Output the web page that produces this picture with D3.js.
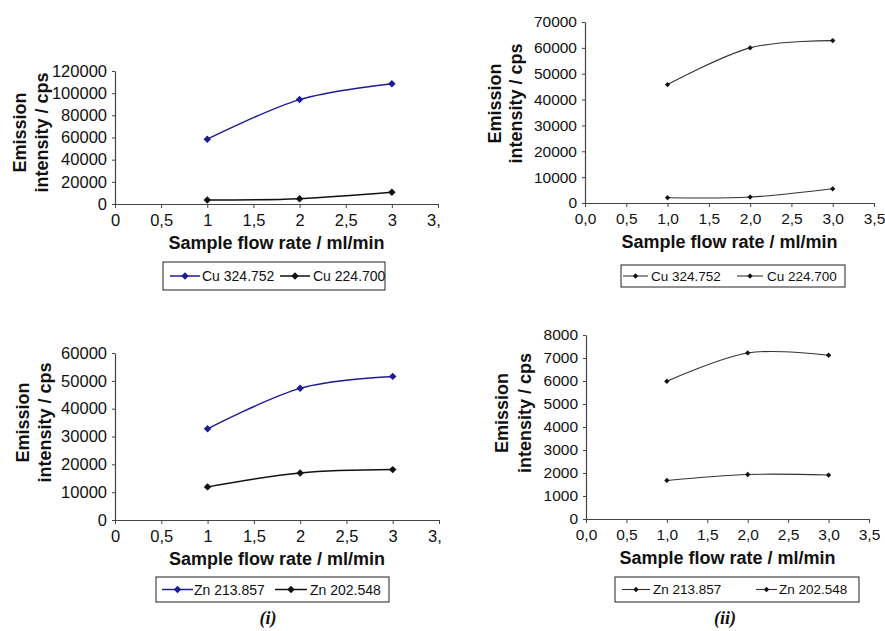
<!DOCTYPE html>
<html>
<head>
<meta charset="utf-8">
<script src="https://cdn.jsdelivr.net/npm/d3@7"></script>
<style>
  body { margin: 0; background: #fff; }
  svg { display: block; font-family: "Liberation Sans", Arial, sans-serif; }
</style>
</head>
<body>
<div id="box"></div>
<script>
// data
const flowRate = [1, 2, 3];
const xTicks = [0, 0.5, 1, 1.5, 2, 2.5, 3, 3.5];

const cu324_i = [58500, 94200, 108600];
const cu224_i = [3600, 4800, 10500];
const zn213_i = [32750, 47300, 51600];
const zn202_i = [11900, 16900, 18100];

const cu324_ii = [45800, 60000, 62800];
const cu224_ii = [2050, 2300, 5500];
const zn213_ii = [5990, 7220, 7120];
const zn202_ii = [1675, 1935, 1910];

const cuNames = ['Cu 324.752', 'Cu 224.700'];
const znNames = ['Zn 213.857', 'Zn 202.548'];

const yTicksCu_i = [0, 20000, 40000, 60000, 80000, 100000, 120000];
const yTicksZn_i = [0, 10000, 20000, 30000, 40000, 50000, 60000];
const yTicksCu_ii = [0, 10000, 20000, 30000, 40000, 50000, 60000, 70000];
const yTicksZn_ii = [0, 1000, 2000, 3000, 4000, 5000, 6000, 7000, 8000];

const width = 885, height = 631;

const svg = d3.select('#box').append('svg')
  .attr('width', width)
  .attr('height', height);

svg.append('clipPath').attr('id', 'leftClip')
  .append('rect').attr('x', 0).attr('y', 0).attr('width', 441).attr('height', height);

const commaFmt0 = d => String(d).replace('.', ',');
const commaFmt1 = d => d3.format('.1f')(d).replace('.', ',');

const panels = [
  { left: 115, right: 438, top: 71, bottom: 204, yMax: 120000, yTicks: yTicksCu_i,
    series: [cu324_i, cu224_i], names: cuNames, colors: ['#1c1c96', '#111'],
    style: 'i', tickFont: 16.5, xFmt: commaFmt0, yl: [-95, -73], yOff: -5,
    legend: { x0: 163, x1: 385, y0: 262, y1: 290, items: [[170, 200, 202], [280, 310, 313]], font: 14 } },
  { left: 585, right: 874, top: 22, bottom: 203, yMax: 70000, yTicks: yTicksCu_ii,
    series: [cu324_ii, cu224_ii], names: cuNames, colors: ['#333', '#333'],
    style: 'ii', tickFont: 15.5, xFmt: commaFmt1, yl: [-90, -69], yOff: -9,
    legend: { x0: 621, x1: 845, y0: 265, y1: 287, items: [[623, 648, 651], [737, 763, 767]], font: 13.5 } },
  { left: 115, right: 439, top: 353, bottom: 520, yMax: 60000, yTicks: yTicksZn_i,
    series: [zn213_i, zn202_i], names: znNames, colors: ['#1c1c96', '#111'],
    style: 'i', tickFont: 16.5, xFmt: commaFmt0, yl: [-92, -70], yOff: -14,
    legend: { x0: 156, x1: 389, y0: 577, y1: 602, items: [[162, 193, 194], [275, 307, 310]], font: 14 } },
  { left: 586, right: 869, top: 335, bottom: 519, yMax: 8000, yTicks: yTicksZn_ii,
    series: [zn213_ii, zn202_ii], names: znNames, colors: ['#333', '#333'],
    style: 'ii', tickFont: 15.5, xFmt: commaFmt1, yl: [-84, -61], yOff: -14,
    legend: { x0: 615, x1: 859, y0: 577, y1: 602, items: [[622, 650, 653], [756, 777, 779]], font: 13.5 } }
];

function drawPanel(p) {
  const g = svg.append('g');
  if (p.style === 'i') g.attr('clip-path', 'url(#leftClip)');

  const x = d3.scaleLinear().domain([0, 3.5]).range([p.left, p.right]);
  const y = d3.scaleLinear().domain([0, p.yMax]).range([p.bottom, p.top]);

  const xAxis = g.append('g')
    .attr('transform', `translate(0,${p.bottom})`)
    .call(d3.axisBottom(x).tickValues(xTicks).tickFormat(p.xFmt).tickSize(4).tickPadding(6).tickSizeOuter(0));
  const yAxis = g.append('g')
    .attr('transform', `translate(${p.left},0)`)
    .call(d3.axisLeft(y).tickValues(p.yTicks).tickFormat(d => String(d)).tickSize(3).tickPadding(5).tickSizeOuter(0));

  [xAxis, yAxis].forEach(a => {
    a.select('.domain').attr('stroke', '#444').attr('stroke-width', 1.2);
    a.selectAll('.tick line').attr('stroke', '#444');
    a.selectAll('.tick text').attr('fill', '#111').style('font-size', p.tickFont + 'px');
  });

  const line = d3.line()
    .x((d, i) => x(flowRate[i]))
    .y(d => y(d))
    .curve(d3.curveCardinal.tension(0));

  const mSize = p.style === 'i' ? 28 : 14;
  const lw = p.style === 'i' ? 1.5 : 1.1;
  const marker = d3.symbol().type(d3.symbolSquare).size(mSize);

  p.series.forEach((s, k) => {
    g.append('path')
      .datum(s)
      .attr('d', line)
      .attr('fill', 'none')
      .attr('stroke', p.colors[k])
      .attr('stroke-width', lw);
    g.selectAll(null).data(s).join('path')
      .attr('d', marker)
      .attr('transform', (d, i) => `translate(${x(flowRate[i])},${y(d)}) rotate(45)`)
      .attr('fill', p.style === 'i' ? p.colors[k] : '#111');
  });

  // axis titles
  g.append('text')
    .attr('x', (p.left + p.right) / 2)
    .attr('y', p.bottom + 45)
    .attr('text-anchor', 'middle')
    .style('font-size', '18px')
    .style('font-weight', 'bold')
    .attr('fill', '#111')
    .text('Sample flow rate / ml/min');

  const midY = (p.top + p.bottom) / 2 + p.yOff;
  ['Emission', 'intensity / cps'].forEach((t, k) => {
    g.append('text')
      .attr('transform', `translate(${p.left + p.yl[k]},${midY}) rotate(-90)`)
      .attr('text-anchor', 'middle')
      .attr('dominant-baseline', 'central')
      .style('font-size', '18px')
      .style('font-weight', 'bold')
      .attr('fill', '#111')
      .text(t);
  });

  // legend
  const L = p.legend;
  const lg = svg.append('g');
  lg.append('rect')
    .attr('x', L.x0).attr('y', L.y0)
    .attr('width', L.x1 - L.x0).attr('height', L.y1 - L.y0)
    .attr('fill', '#fff').attr('stroke', '#222').attr('stroke-width', 1);
  const cy = (L.y0 + L.y1) / 2;
  L.items.forEach((it, k) => {
    lg.append('line')
      .attr('x1', it[0]).attr('x2', it[1]).attr('y1', cy).attr('y2', cy)
      .attr('stroke', p.colors[k]).attr('stroke-width', lw);
    lg.append('path')
      .attr('d', marker)
      .attr('transform', `translate(${(it[0] + it[1]) / 2},${cy}) rotate(45)`)
      .attr('fill', p.style === 'i' ? p.colors[k] : '#111');
    lg.append('text')
      .attr('x', it[2]).attr('y', cy)
      .attr('dominant-baseline', 'central')
      .style('font-size', L.font + 'px')
      .attr('fill', '#111')
      .text(p.names[k]);
  });
}

panels.forEach(drawPanel);

// sub-figure captions
[['(i)', 268], ['(ii)', 725]].forEach(c => {
  svg.append('text')
    .attr('x', c[1]).attr('y', 624)
    .attr('text-anchor', 'middle')
    .style('font-family', '"Liberation Serif", "Times New Roman", serif')
    .style('font-size', '18px')
    .style('font-weight', 'bold')
    .style('font-style', 'italic')
    .attr('fill', '#111')
    .text(c[0]);
});
</script>
</body>
</html>
